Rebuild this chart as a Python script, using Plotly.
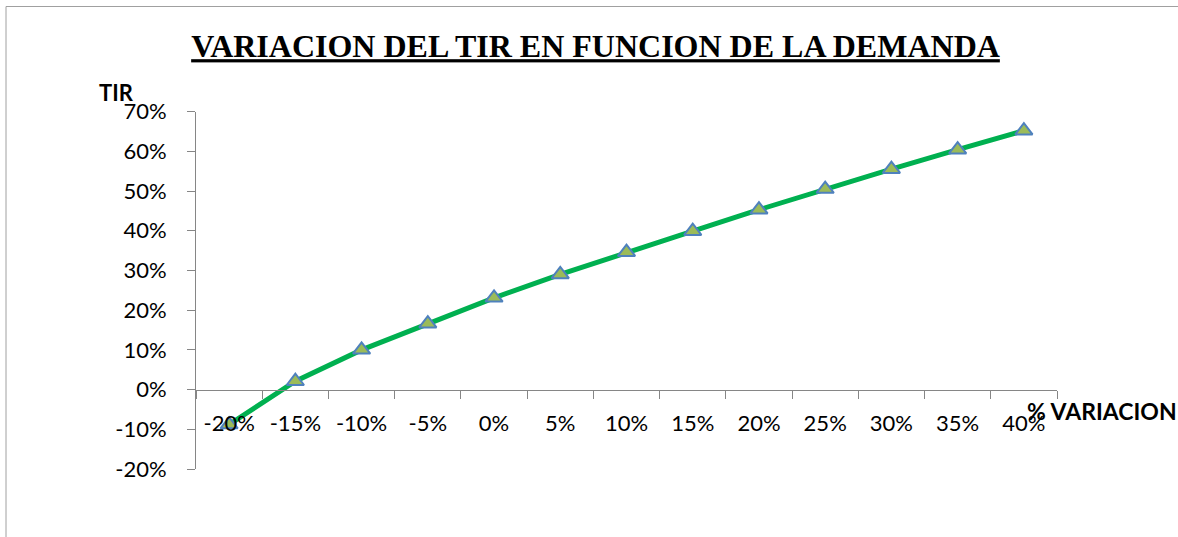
import plotly.graph_objects as go

categories = ["-20%", "-15%", "-10%", "-5%", "0%", "5%", "10%", "15%", "20%", "25%", "30%", "35%", "40%"]
tir_values = [-0.088, 0.021, 0.100, 0.166, 0.231, 0.290, 0.346, 0.399, 0.453, 0.505, 0.555, 0.604, 0.652]
y_tick_vals = [-0.2, -0.1, 0.0, 0.1, 0.2, 0.3, 0.4, 0.5, 0.6, 0.7]
y_tick_text = ["-20%", "-10%", "0%", "10%", "20%", "30%", "40%", "50%", "60%", "70%"]

W, H = 1178, 537
x0, x1 = 196 / W, 1057 / W
yb, yt = 1 - 469 / H, 1 - 111.6 / H
ymin, ymax = -0.2, 0.7
zero_pos = yb + (yt - yb) * (0 - ymin) / (ymax - ymin)

FONT = "Lato"
AX = "#868686"

fig = go.Figure()
fig.add_trace(go.Scatter(
    x=categories, y=tir_values, mode="lines+markers",
    line=dict(color="#00B050", width=5),
    marker=dict(symbol="triangle-up", size=15, color="#9BBB59",
                line=dict(color="#4F81BD", width=2)),
    showlegend=False, hoverinfo="x+y",
))

fig.update_layout(
    width=W, height=H,
    margin=dict(l=0, r=0, t=0, b=0),
    paper_bgcolor="white", plot_bgcolor="rgba(0,0,0,0)",
    font=dict(family=FONT, size=22, color="black"),
    title=dict(
        text="VARIACION DEL TIR EN FUNCION DE LA DEMANDA",
        x=595.5 / W, xanchor="center", y=1 - 46 / H, yanchor="middle",
        font=dict(family="Liberation Serif", size=32, color="black",
                  weight="bold", lineposition="under"),
    ),
    xaxis=dict(
        type="category", domain=[x0, x1], anchor="free", position=zero_pos,
        range=[-0.5, len(categories) - 0.5],
        showgrid=False, zeroline=False, showline=True, linecolor=AX, linewidth=1,
        ticks="outside", ticklen=8, tickcolor=AX, tickwidth=1, tickson="boundaries",
        ticklabelstandoff=14, automargin=False,
        tickfont=dict(family=FONT, size=22, color="black"),
    ),
    yaxis=dict(
        domain=[yb, yt], range=[ymin, ymax], anchor="x",
        tickvals=y_tick_vals, ticktext=y_tick_text,
        showgrid=False, zeroline=False, showline=True, linecolor=AX, linewidth=1,
        ticks="outside", ticklen=8, tickcolor=AX, tickwidth=1,
        ticklabelstandoff=16, automargin=False,
        tickfont=dict(family=FONT, size=22, color="black"),
    ),
    shapes=[dict(type="rect", xref="paper", yref="paper",
                 x0=6 / W, x1=1.01, y0=-0.02, y1=1 - 6.5 / H,
                 line=dict(color="#A0A0A0", width=1), fillcolor="rgba(0,0,0,0)", layer="below")],
    annotations=[
        dict(text="<b>TIR</b>", xref="paper", yref="paper", x=117 / W, y=1 - 92 / H,
             xanchor="center", yanchor="middle", showarrow=False,
             font=dict(family=FONT, size=22, color="black")),
        dict(text="<b>% VARIACION</b>", xref="paper", yref="paper", x=1025 / W, y=1 - 411 / H,
             xanchor="left", yanchor="middle", showarrow=False,
             font=dict(family=FONT, size=23, color="black")),
    ],
)

fig.write_html("out.html")
